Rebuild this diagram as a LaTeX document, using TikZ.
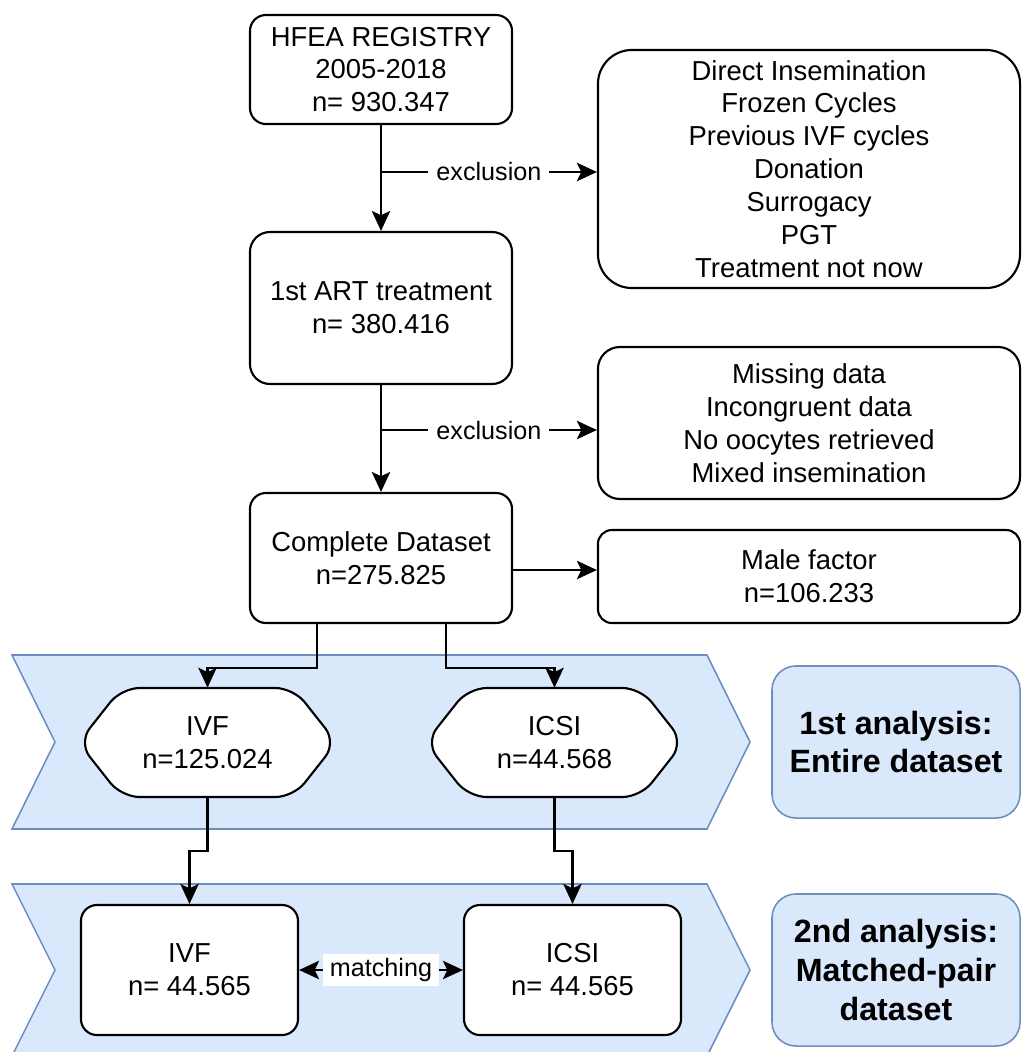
\documentclass[tikz,border=0pt]{standalone}
\usepackage{fontspec}
\setmainfont{Liberation Sans}
\usetikzlibrary{arrows.meta}

\definecolor{bandfill}{HTML}{DAE8FC}
\definecolor{bandline}{HTML}{6C8EBF}

\tikzset{
  flow/.style={line width=1.6pt, ->},
  box/.style={draw, line width=1.5pt, fill=white, align=center, rounded corners=0.4cm,
    font=\fontsize{19.5}{23.4}\selectfont},
  cutlabel/.style={fill=white, inner xsep=0.2cm, inner ysep=1pt,
    font=\fontsize{17.9}{21.5}\selectfont},
  band/.style={fill=bandfill, draw=bandline, line width=1.1pt},
  stage/.style={band, rounded corners=0.6cm, align=center, minimum width=6.2cm, minimum height=3.8cm,
    font=\fontsize{22.9}{27.5}\selectfont\bfseries},
  hexline/.style={draw, line width=1.5pt, fill=white, rounded corners=0.45cm},
  hextext/.style={align=center, minimum width=6.225cm, minimum height=2.725cm, inner sep=0pt,
    font=\fontsize{19.5}{23.4}\selectfont},
}

% hexagon outline around a centre point (x,y)
\newcommand{\hexframe}[2]{%
  \path[hexline] (#1-129,#2) -- (#1-86,#2-54.5) -- (#1+86,#2-54.5) -- (#1+129,#2)
    -- (#1+86,#2+54.5) -- (#1-86,#2+54.5) -- cycle;}

\begin{document}
\begin{tikzpicture}[x=0.025cm, y=-0.025cm, >={Stealth[length=0.5cm,width=0.46cm,inset=0.11cm]}]
  \useasboundingbox (0,0) rectangle (1021,1052);

  % analysis bands
  \path[band] (12,655) -- (707,655) -- (750,742) -- (707,829) -- (12,829) -- (55,742) -- cycle;
  \path[band] (12,884) -- (707,884) -- (750,970) -- (707,1056) -- (12,1056) -- (55,970) -- cycle;

  % main column
  \node[box, minimum width=6.55cm, minimum height=2.725cm] (hfea) at (381,69.5)
    {HFEA REGISTRY\\2005-2018\\n= 930.347};
  \node[box, minimum width=6.55cm, minimum height=3.8cm, rounded corners=0.5cm] (art) at (381,308)
    {1st ART treatment\\n= 380.416};
  \node[box, minimum width=6.55cm, minimum height=3.25cm] (complete) at (381,558)
    {Complete Dataset\\n=275.825};

  % excluded cases
  \node[box, minimum width=10.55cm, minimum height=5.95cm, rounded corners=0.85cm] (excl1) at (809,169)
    {Direct Insemination\\Frozen Cycles\\Previous IVF cycles\\Donation\\Surrogacy\\PGT\\Treatment not now};
  \node[box, minimum width=10.55cm, minimum height=3.8cm, rounded corners=0.55cm] (excl2) at (809,423)
    {Missing data\\Incongruent data\\No oocytes retrieved\\Mixed insemination};
  \node[box, minimum width=10.55cm, minimum height=2.325cm, rounded corners=0.35cm] (male) at (809,576.5)
    {Male factor\\n=106.233};

  % entire dataset
  \hexframe{207.5}{742.5}
  \node[hextext] (ivfA) at (207.5,742.5) {IVF\\n=125.024};
  \hexframe{554.5}{742.5}
  \node[hextext] (icsiA) at (554.5,742.5) {ICSI\\n=44.568};

  % matched pairs
  \node[box, minimum width=5.425cm, minimum height=3.25cm] (ivfB) at (189.5,970) {IVF\\n= 44.565};
  \node[box, minimum width=5.425cm, minimum height=3.25cm] (icsiB) at (572.5,970) {ICSI\\n= 44.565};

  \node[stage] (first) at (896,742) {1st analysis:\\Entire dataset};
  \node[stage] (second) at (896,970) {2nd analysis:\\Matched-pair\\dataset};

  % arrows
  \coordinate (cut1) at (381,172);
  \coordinate (cut2) at (381,430);
  \draw[flow] (hfea) -- (art);
  \draw[flow] (art) -- (complete);
  \draw[flow] (cut1) -- node[cutlabel] {exclusion} (cut1 -| excl1.west);
  \draw[flow] (cut2) -- node[cutlabel] {exclusion} (cut2 -| excl2.west);
  \draw[flow] ([yshift=-0.3cm]complete.east) -- ([yshift=-0.3cm]complete.east -| male.west);

  \draw[flow] ([xshift=-1.6cm]complete.south) -- ++(0,44) -| (ivfA.north);
  \draw[flow] ([xshift=1.625cm]complete.south) -- ++(0,44) -| (icsiA.north);
  \draw[flow] (ivfA.south) -- ++(0,54) -| (ivfB.north);
  \draw[flow] (icsiA.south) -- ++(0,54) -| (icsiB.north);

  \draw[flow, <->] (ivfB) -- node[cutlabel, inner xsep=0.17cm, inner ysep=3pt] {matching} (icsiB);
\end{tikzpicture}
\end{document}
